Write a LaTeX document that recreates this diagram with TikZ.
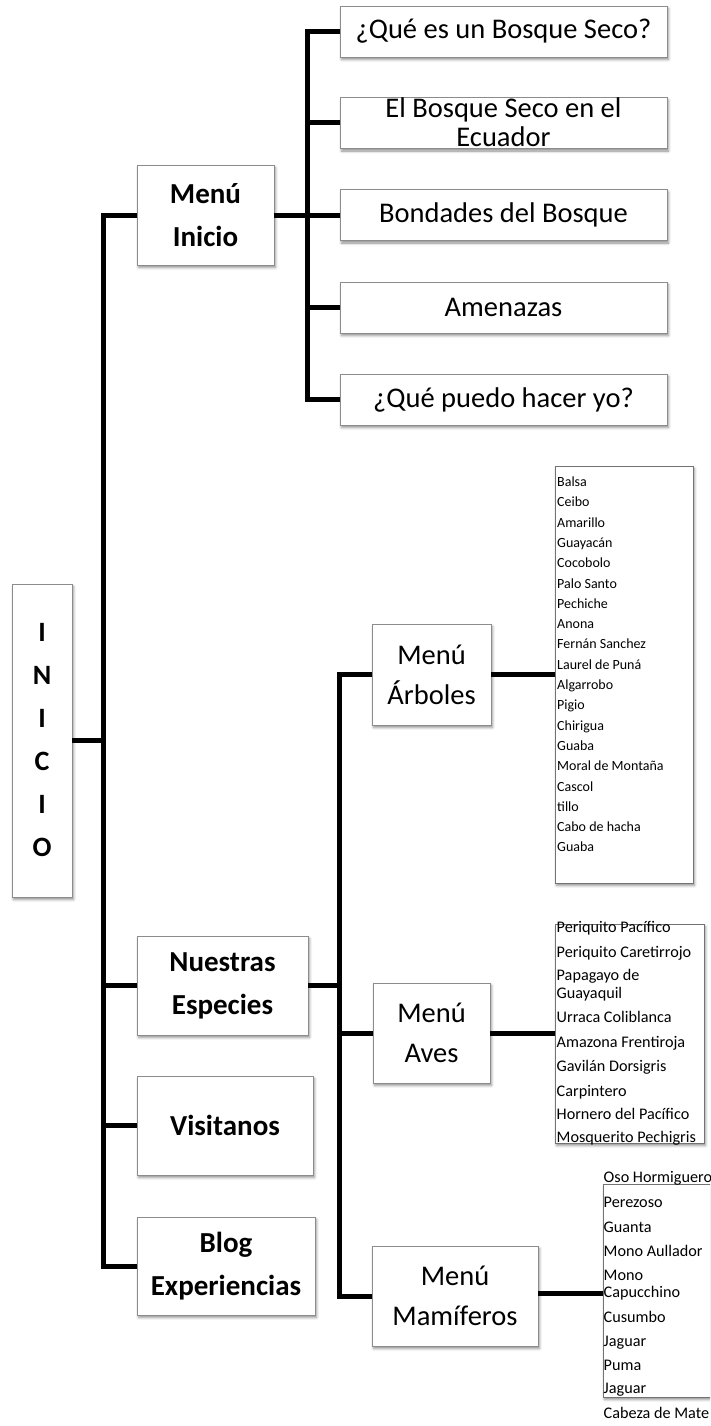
\documentclass[tikz,border=0pt]{standalone}
\usepackage{fontspec}
\setmainfont{Carlito}
\usetikzlibrary{shadows.blur}
\begin{document}
\begin{tikzpicture}[x=1pt,y=-1pt,
  conn/.style={line width=5pt, black},
  box/.style={draw=black!45, line width=0.9pt, fill=white, inner sep=0pt,
    blur shadow={shadow xshift=1.5pt, shadow yshift=-2.5pt, shadow blur radius=2.5pt, shadow opacity=45}},
  listbox/.style={draw=black!55, line width=0.9pt, fill=white, inner sep=0pt,
    blur shadow={shadow xshift=1.5pt, shadow yshift=-2.5pt, shadow blur radius=2.5pt, shadow opacity=45}},
  boldtxt/.style={font=\fontsize{29}{43}\selectfont\bfseries, align=center},
  regtxt/.style={font=\fontsize{28.5}{40}\selectfont, align=center},
  subtxt/.style={font=\fontsize{28.5}{29}\selectfont, align=center},
  smalltxt/.style={font=\fontsize{14}{15}\selectfont, anchor=base west, inner sep=0pt},
  midtxt/.style={font=\fontsize{16.2}{17}\selectfont, anchor=base west, inner sep=0pt}
]
\useasboundingbox (0,0) rectangle (710,1426);
\clip (0,0) rectangle (710,1426);

% root
\node[box, minimum width=60pt, minimum height=313pt, font=\fontsize{28}{43}\selectfont\bfseries, align=center] (inicio) at (42,740.5) {I\\N\\I\\C\\I\\O};

% level 1
\node[box, boldtxt, minimum width=137pt, minimum height=100pt] (mi) at (205.5,215) {Menú\\Inicio};
\node[box, boldtxt, minimum width=171pt, minimum height=99pt] (ne) at (222.5,985.5) {Nuestras\\Especies};
\node[box, boldtxt, minimum width=176pt, minimum height=99pt] (vi) at (225,1125.5) {Visitanos};
\node[box, boldtxt, minimum width=178pt, minimum height=98pt] (blog) at (226,1266) {Blog\\Experiencias};

% Menu Inicio children
\node[box, subtxt, minimum width=327pt, minimum height=51pt] (s1) at (503.5,31.5) {¿Qué es un Bosque Seco?};
\node[box, minimum width=327pt, minimum height=51pt] (s2) at (503.5,123) {};
\node[subtxt] (s2t) at (503.5,122.5) {El Bosque Seco en el\\Ecuador};
\node[box, subtxt, minimum width=327pt, minimum height=51pt] (s3) at (503.5,215) {Bondades del Bosque};
\node[box, subtxt, minimum width=327pt, minimum height=51pt] (s4) at (503.5,307.5) {Amenazas};
\node[box, subtxt, minimum width=327pt, minimum height=51pt] (s5) at (503.5,399.5) {¿Qué puedo hacer yo?};

% Nuestras Especies children
\node[box, regtxt, minimum width=119pt, minimum height=101pt] (arb) at (431.5,674.5) {Menú\\Árboles};
\node[box, regtxt, minimum width=117pt, minimum height=100pt] (ave) at (431.5,1033) {Menú\\Aves};
\node[box, regtxt, minimum width=166pt, minimum height=100pt] (mam) at (455,1296) {Menú\\Mamíferos};

% list boxes
\node[listbox, minimum width=138pt, minimum height=417pt] (arbL) at (624,674.5) {};
\node[listbox, minimum width=149pt, minimum height=219pt] (aveL) at (629.5,1033.5) {};
\node[listbox, minimum width=120pt, minimum height=213pt] (mamL) at (663,1290.5) {};

% tree list
\foreach \t [count=\i from 0] in {Balsa,Ceibo,Amarillo,Guayacán,Cocobolo,Palo Santo,Pechiche,Anona,Fernán Sanchez,Laurel de Puná,Algarrobo,Pigio,Chirigua,Guaba,Moral de Montaña,Cascol,tillo,Cabo de hacha,Guaba}
  \node[smalltxt] (arb\i) at (557,{486.5+20.3*\i}) {\t};

% bird list
\foreach \t/\y [count=\i] in {Periquito Pacífico/927,Periquito Caretirrojo/952,Papagayo de/975,Guayaquil/993,Urraca Coliblanca/1017,Amazona Frentiroja/1042,Gavilán Dorsigris/1066,Carpintero/1091,Hornero del Pacífico/1114,Mosquerito Pechigris/1137}
  \node[midtxt] (ave\i) at (556.5,\y+5.2) {\t};

% mammal list
\foreach \t/\y [count=\i] in {Oso Hormiguero/1177,Perezoso/1202,Guanta/1227,Mono Aullador/1251,Mono/1275,Capucchino/1292,Cusumbo/1317,Jaguar/1341,Puma/1365,Jaguar/1388,Cabeza de Mate/1413}
  \node[midtxt] (mam\i) at (603.5,\y+5.2) {\t};

% connectors
\coordinate (T) at (103,0);
\coordinate (U) at (307,0);
\coordinate (V) at (339,0);
\draw[conn] (mi.west) -- (mi.west -| T) -- (blog.west -| T) -- (blog.west);
\draw[conn] (inicio.east) -- (inicio.east -| T);
\draw[conn] (ne.west) -- (ne.west -| T);
\draw[conn] (vi.west) -- (vi.west -| T);

\draw[conn] (s1.west) -- (s1.west -| U) -- (s5.west -| U) -- (s5.west);
\draw[conn] (mi.east) -- (s3.west);
\draw[conn] (s2.west -| U) -- (s2.west);
\draw[conn] (s4.west -| U) -- (s4.west);

\draw[conn] (arb.west) -- (arb.west -| V) -- (mam.west -| V) -- (mam.west);
\draw[conn] (ne.east) -- (ne.east -| V);
\draw[conn] (ave.west -| V) -- (ave.west);

\draw[conn] (arb.east) -- (arb.east -| arbL.west);
\draw[conn] (ave.east) -- (ave.east -| aveL.west);
\draw[conn] ([yshift=3pt]mam.east) -- ([yshift=3pt]mam.east -| mamL.west);
\end{tikzpicture}
\end{document}
